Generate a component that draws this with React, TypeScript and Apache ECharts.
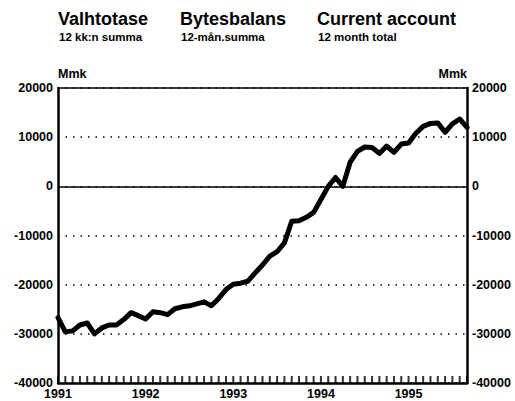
import React, { useEffect, useRef } from "react";
import * as echarts from "echarts";

const years = [1991, 1992, 1993, 1994, 1995];
const months = ["01", "02", "03", "04", "05", "06", "07", "08", "09", "10", "11", "12"];
const categories: string[] = [];
years.forEach((y) => months.forEach((m) => categories.push(`${y}-${m}`)));
const monthCategories = categories.slice(0, 57);

const currentAccount = [
  -26700, -29600, -29400, -28200, -27800, -30000, -28800, -28200, -28200, -27100, -25700, -26300,
  -27000, -25500, -25700, -26100, -24900, -24500, -24300, -23900, -23500, -24300, -22800, -21000,
  -19900, -19700, -19300, -17600, -16000, -14200, -13300, -11500, -7100, -7000, -6300, -5300,
  -2700, 0, 1800, 0, 4900, 7100, 8000, 7900, 6700, 8200, 6900, 8600,
  8800, 10800, 12200, 12800, 12900, 11000, 12700, 13700, 12000,
];

const yTicks = { min: -40000, max: 20000, interval: 10000 };

const titles = [
  { x: 58, text: "Valhtotase", sub: "12 kk:n summa" },
  { x: 180, text: "Bytesbalans", sub: "12-mån.summa" },
  { x: 317, text: "Current account", sub: "12 month total" },
];

const FONT = "'Liberation Sans', Arial, Helvetica, sans-serif";

export default function App() {
  const ref = useRef<HTMLDivElement>(null);
  useEffect(() => {
    if (!ref.current) return;
    const chart = echarts.init(ref.current, null, { renderer: "svg" });
    const dotted = { type: [1.5, 6] as number[], width: 1.5, color: "#000" };
    const yAxisBase = {
      type: "value" as const,
      min: yTicks.min,
      max: yTicks.max,
      interval: yTicks.interval,
      axisLine: { show: true, lineStyle: { color: "#000", width: 2.5 } },
      axisTick: { show: false },
      axisLabel: {
        color: "#000",
        fontFamily: FONT,
        fontWeight: "bold" as const,
        fontSize: 12.5,
        margin: 5,
        formatter: (v: number) => String(v),
      },
    };
    const graphics: any[] = [];
    titles.forEach((t) => {
      graphics.push({
        type: "text",
        left: t.x,
        top: 10,
        style: { text: t.text, font: `bold 18px ${FONT}`, fill: "#000" },
      });
      graphics.push({
        type: "text",
        left: t.x + 1,
        top: 31,
        style: { text: t.sub, font: `bold 11.5px ${FONT}`, fill: "#000" },
      });
    });
    graphics.push({
      type: "text",
      left: 58,
      top: 67,
      style: { text: "Mmk", font: `bold 12.5px ${FONT}`, fill: "#000" },
    });
    graphics.push({
      type: "text",
      right: 48,
      top: 67,
      style: { text: "Mmk", font: `bold 12.5px ${FONT}`, fill: "#000", align: "right" },
    });

    const tickData = monthCategories.map((c) => [c, yTicks.min]);

    chart.setOption({
      animation: false,
      backgroundColor: "#fff",
      graphic: graphics,
      grid: { left: 58, right: 48, top: 88, bottom: 18, containLabel: false },
      xAxis: [
        {
          type: "category",
          position: "bottom",
          data: monthCategories,
          boundaryGap: false,
          axisLine: { show: true, onZero: false, lineStyle: { color: "#000", width: 2.5 } },
          axisTick: { show: false },
          axisLabel: {
            interval: (i: number) => i % 12 === 0,
            formatter: (v: string) => v.slice(0, 4),
            color: "#000",
            fontFamily: FONT,
            fontWeight: "bold",
            fontSize: 12.5,
            margin: 4,
          },
          splitLine: { show: false },
        },
        {
          type: "category",
          data: monthCategories,
          boundaryGap: false,
          position: "top",
          axisLine: { show: true, onZero: false, lineStyle: { color: "#000", width: 1.5 } },
          axisTick: { show: false },
          axisLabel: { show: false },
        },
      ],
      yAxis: [
        {
          ...yAxisBase,
          position: "left",
          splitLine: { show: true, lineStyle: dotted },
        },
        {
          ...yAxisBase,
          position: "right",
          splitLine: { show: false },
        },
      ],
      series: [
        {
          type: "scatter",
          data: tickData,
          silent: true,
          clip: false,
          z: 8,
          symbol: "rect",
          symbolSize: [2, 7],
          symbolOffset: [0, -3.5],
          itemStyle: { color: "#000" },
        },
        {
          type: "line",
          data: currentAccount,
          showSymbol: false,
          symbol: "none",
          lineStyle: { color: "#000", width: 5, join: "round", cap: "round" },
          z: 5,
          markLine: {
            silent: true,
            symbol: "none",
            label: { show: false },
            lineStyle: { color: "#000", width: 1.5, type: "solid" },
            data: [{ yAxis: 0 }],
          },
        },
      ],
    });
    return () => chart.dispose();
  }, []);
  return (
    <div
      ref={ref}
      style={{ position: "fixed", left: 0, top: 0, width: 515, height: 401, background: "#fff" }}
    />
  );
}
